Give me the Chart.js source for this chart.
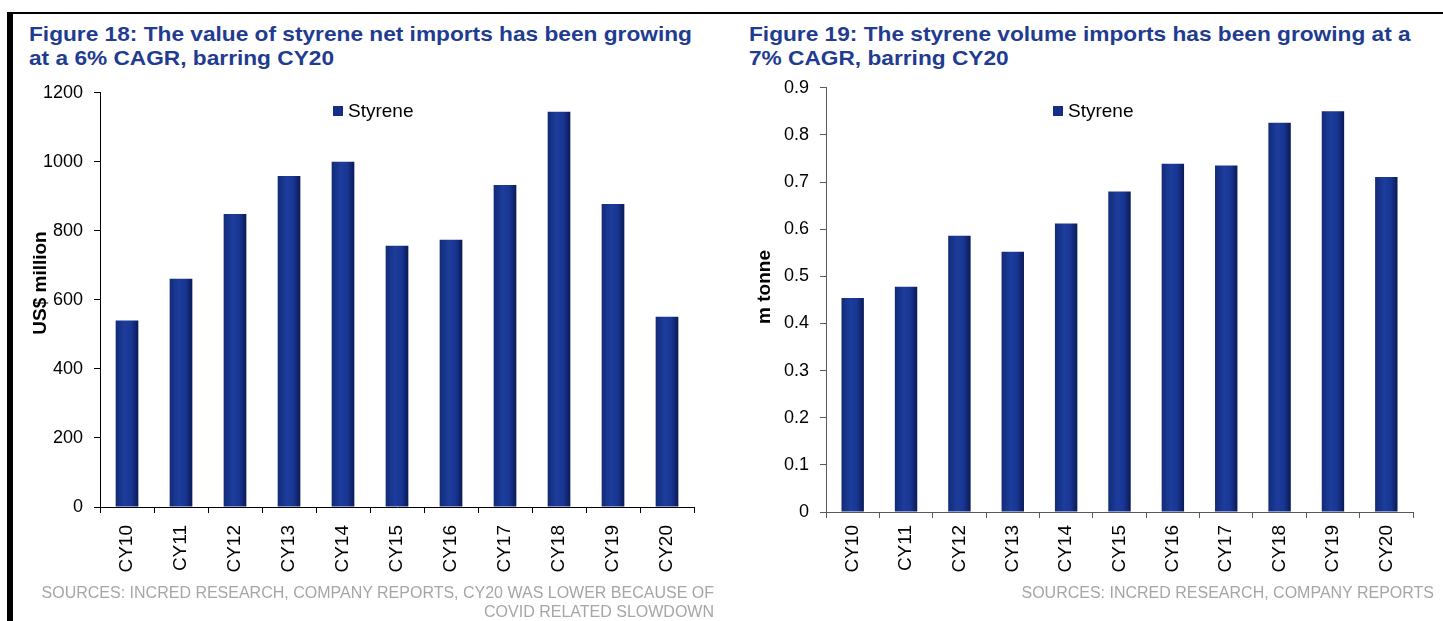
<!DOCTYPE html>
<html>
<head>
<meta charset="utf-8">
<script src="https://cdn.jsdelivr.net/npm/chart.js@4.4.1/dist/chart.umd.min.js"></script>
<style>
  html, body { margin: 0; padding: 0; background: #fff; }
  body { width: 1443px; height: 621px; position: relative; overflow: hidden; font-family: 'Liberation Sans', Arial, sans-serif; }
  .rule-top { position: absolute; left: 7px; top: 12px; width: 1436px; height: 2px; background: #000; }
  .rule-left { position: absolute; left: 7px; top: 12px; width: 6px; height: 609px; background: #000; }
  .fig-title { position: absolute; color: #1f3c91; font-weight: bold; font-size: 21px; line-height: 24px;
               white-space: nowrap; transform: scaleX(1.08); transform-origin: 0 0; }
  .source { position: absolute; color: #a6a6a6; font-size: 16px; line-height: 19px; text-align: right; }
  .panel { position: absolute; }
</style>
</head>
<body>
<div class="rule-top"></div>
<div class="rule-left"></div>

<div class="fig-title" style="left:29px; top:22px;">Figure 18: The value of styrene net imports has been growing<br>at a 6% CAGR, barring CY20</div>
<div class="fig-title" style="left:749px; top:22px;">Figure 19: The styrene volume imports has been growing at a<br>7% CAGR, barring CY20</div>

<div class="panel" style="left:20px; top:71px; width:690px; height:514px;"><canvas id="valueChart"></canvas></div>
<div class="panel" style="left:740px; top:66px; width:703px; height:519px;"><canvas id="volumeChart"></canvas></div>

<div class="source" style="left:20px; width:694px; top:583px;">SOURCES: INCRED RESEARCH, COMPANY REPORTS, CY20 WAS LOWER BECAUSE OF<br>COVID RELATED SLOWDOWN</div>
<div class="source" style="left:740px; width:694px; top:583px;">SOURCES: INCRED RESEARCH, COMPANY REPORTS</div>

<script>
// chart data
const years = ['CY10', 'CY11', 'CY12', 'CY13', 'CY14', 'CY15', 'CY16', 'CY17', 'CY18', 'CY19', 'CY20'];
const importValue = [540, 661, 849, 959, 1000, 757, 774, 933, 1145, 878, 551];      // US$ million
const importVolume = [0.454, 0.478, 0.586, 0.552, 0.612, 0.680, 0.739, 0.735, 0.826, 0.850, 0.711]; // m tonne
const valueTicks = [0, 200, 400, 600, 800, 1000, 1200];
const volumeTicks = ['0', '0.1', '0.2', '0.3', '0.4', '0.5', '0.6', '0.7', '0.8', '0.9'];

const FONT = "'Liberation Sans', Arial, sans-serif";
const BAR_COLOR = '#132f86';

// shaded bars: darker at the edges, brighter in the middle
const barShading = {
    id: 'barShading',
    beforeDatasetsDraw(chart) {
        const ctx = chart.ctx;
        chart.getDatasetMeta(0).data.forEach(bar => {
            const half = bar.width / 2;
            const g = ctx.createLinearGradient(bar.x - half, 0, bar.x + half, 0);
            g.addColorStop(0, '#112b78');
            g.addColorStop(0.4, '#1d3d9c');
            g.addColorStop(0.7, '#183592');
            g.addColorStop(1, '#0a1a55');
            // options are shared between bars, so give each bar its own copy
            bar.options = Object.assign({}, bar.options, { backgroundColor: g });
        });
    }
};

// small legend drawn inside the plot area
const insideLegend = {
    id: 'insideLegend',
    afterDraw(chart, args, opts) {
        const ctx = chart.ctx;
        const x = chart.chartArea.left + opts.x;
        const y = opts.y;
        ctx.save();
        ctx.fillStyle = BAR_COLOR;
        ctx.fillRect(x, y, 10, 10);
        ctx.fillStyle = '#000';
        ctx.font = '19px ' + FONT;
        ctx.textBaseline = 'middle';
        ctx.fillText(chart.data.datasets[0].label, x + 15, y + 6);
        ctx.restore();
    }
};

// rotated y axis title, placed a little above the middle of the axis
const axisTitle = {
    id: 'axisTitle',
    afterDraw(chart, args, opts) {
        const ctx = chart.ctx;
        ctx.save();
        ctx.translate(opts.x, opts.y);
        ctx.rotate(-Math.PI / 2);
        ctx.fillStyle = '#000';
        ctx.font = 'bold 19px ' + FONT;
        ctx.textAlign = 'center';
        ctx.textBaseline = 'middle';
        ctx.fillText(opts.text, 0, 0);
        ctx.restore();
    }
};

function makeChart(id, cfg) {
    const ctx = document.getElementById(id).getContext('2d');
    return new Chart(ctx, {
        type: 'bar',
        data: {
            labels: years,
            datasets: [{
                label: 'Styrene',
                data: cfg.data,
                backgroundColor: BAR_COLOR,
                categoryPercentage: 1,
                barPercentage: 0.42
            }]
        },
        options: {
            responsive: true,
            maintainAspectRatio: false,
            animation: false,
            layout: { padding: { left: 0, right: cfg.padRight, top: 0, bottom: 0 } },
            plugins: {
                legend: { display: false },
                tooltip: { enabled: false },
                insideLegend: { x: cfg.legendX, y: cfg.legendY },
                axisTitle: { text: cfg.title, x: cfg.titleX, y: cfg.titleY }
            },
            scales: {
                x: {
                    grid: { drawOnChartArea: false, color: cfg.axisColor, tickLength: 6, offset: true },
                    border: { color: cfg.axisColor, width: 1 },
                    ticks: {
                        color: '#000',
                        font: { family: FONT, size: 19 },
                        minRotation: 90,
                        maxRotation: 90,
                        padding: cfg.xPad
                    },
                    afterFit(scale) { scale.height = cfg.xHeight; }
                },
                y: {
                    min: 0,
                    max: cfg.max,
                    grid: { drawOnChartArea: false, color: cfg.axisColor, tickLength: 6 },
                    border: { color: cfg.axisColor, width: 1 },
                    ticks: {
                        stepSize: cfg.step,
                        color: '#000',
                        padding: 11,
                        font: { family: FONT, size: 18 },
                        callback: (v, i) => cfg.tickLabels[i]
                    },
                    afterFit(scale) { scale.width = cfg.yWidth; }
                }
            }
        },
        plugins: [barShading, insideLegend, axisTitle]
    });
}

function initCharts() {
    makeChart('valueChart', {
        data: importValue,
        max: 1200,
        step: 200,
        tickLabels: valueTicks.map(String),
        title: 'US$ million',
        titleX: 21,
        titleY: 212,
        axisColor: '#000',
        yWidth: 80,
        xHeight: 78,
        padRight: 16,
        xPad: 12,
        legendX: 233,
        legendY: 35
    });
    makeChart('volumeChart', {
        data: importVolume,
        max: 0.9,
        step: 0.1,
        tickLabels: volumeTicks,
        title: 'm tonne',
        titleX: 25,
        titleY: 221,
        axisColor: '#595959',
        yWidth: 86,
        xHeight: 73,
        padRight: 30,
        xPad: 7,
        legendX: 227,
        legendY: 40
    });
}

if (document.readyState === 'loading') {
    document.addEventListener('DOMContentLoaded', initCharts);
} else {
    initCharts();
}
</script>
</body>
</html>
